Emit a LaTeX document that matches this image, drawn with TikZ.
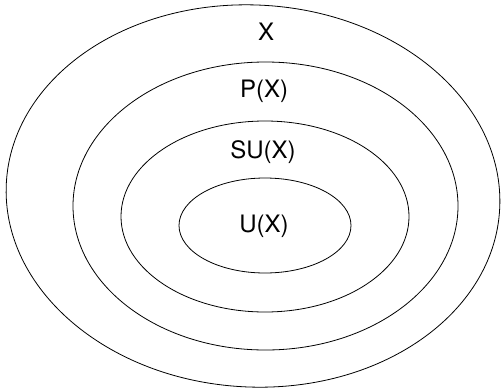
\documentclass[tikz,border=0pt]{standalone}
\usepackage{fontspec}
\setmainfont{TeX Gyre Heros}
\begin{document}
\begin{tikzpicture}[x=1pt, y=-1pt, line width=0.8pt, font=\fontsize{24}{28}\selectfont]
  \useasboundingbox (0,0) rectangle (502,391);
  % nested sets
  \draw[rotate around={-3:(253,196)}] (253,196) ellipse [x radius=247, y radius=191];
  \draw (265.5,206) ellipse [x radius=192.5, y radius=144];
  \draw (265,216.5) ellipse [x radius=144, y radius=95.5];
  \draw (265,225.5) ellipse [x radius=86, y radius=47.5];
  \node (x) at (266,32) {X};
  \node (px) at (264,91) {P(X)};
  \node (sux) at (263,152) {SU(X)};
  \node (ux) at (264,226) {U(X)};
\end{tikzpicture}
\end{document}
